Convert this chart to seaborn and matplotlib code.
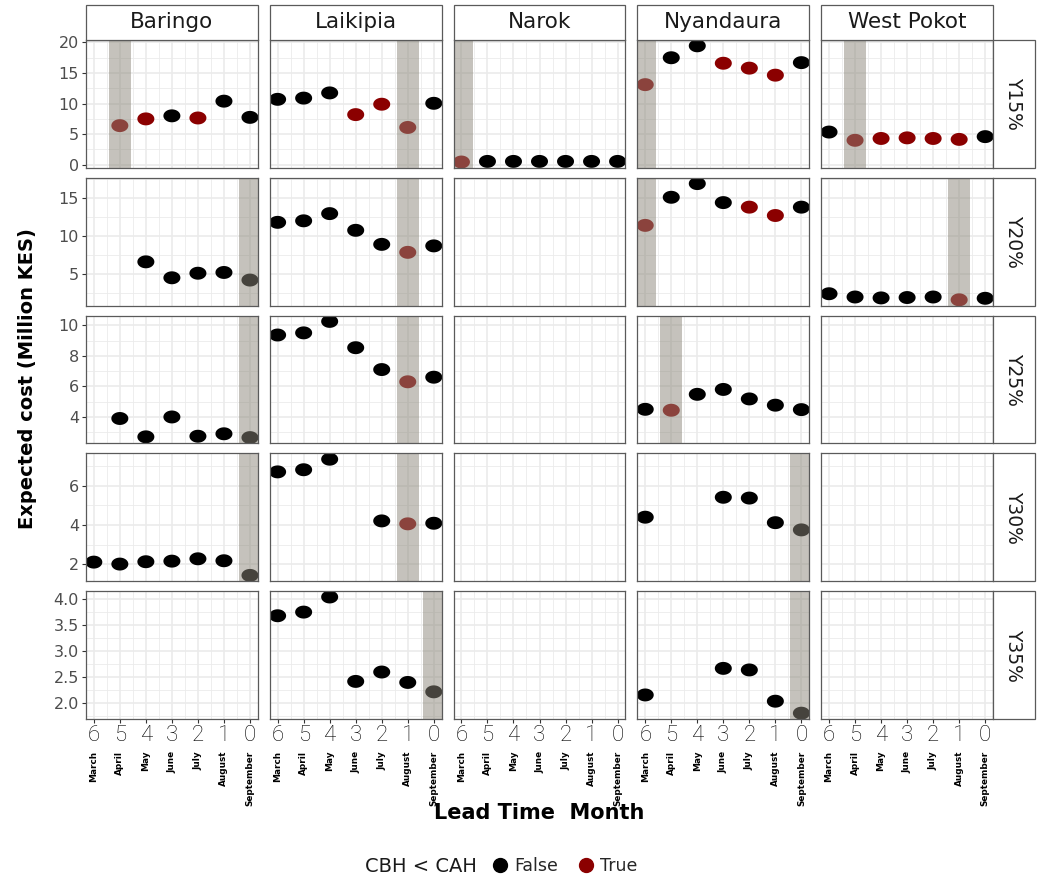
import numpy as np
import pandas as pd
import matplotlib
matplotlib.use("Agg")
import matplotlib.pyplot as plt
import seaborn as sns
from matplotlib.path import Path
from matplotlib.patches import Rectangle
from matplotlib.lines import Line2D
from matplotlib.ticker import MultipleLocator, FormatStrFormatter, FixedLocator

nan = np.nan

# ---------------- data ----------------
leads = [6, 5, 4, 3, 2, 1, 0]
months = ["March", "April", "May", "June", "July", "August", "September"]
regions = ["Baringo", "Laikipia", "Narok", "Nyandaura", "West Pokot"]
thresholds = ["Y15%", "Y20%", "Y25%", "Y30%", "Y35%"]

# Y15%
cost_y15_baringo = [nan, 6.4, 7.5, 8.0, 7.65, 10.4, 7.75]
cbh_y15_baringo = [False, True, True, False, True, False, False]
cost_y15_laikipia = [10.7, 10.9, 11.75, 8.2, 9.9, 6.1, 10.05]
cbh_y15_laikipia = [False, False, False, True, True, True, False]
cost_y15_narok = [0.45, 0.55, 0.55, 0.55, 0.55, 0.55, 0.55]
cbh_y15_narok = [True, False, False, False, False, False, False]
cost_y15_nyandaura = [13.1, 17.5, 19.45, 16.6, 15.8, 14.65, 16.7]
cbh_y15_nyandaura = [True, False, False, True, True, True, False]
cost_y15_westpokot = [5.35, 4.0, 4.3, 4.4, 4.3, 4.15, 4.6]
cbh_y15_westpokot = [False, True, True, True, True, True, False]

# Y20%
cost_y20_baringo = [nan, nan, 6.6, 4.5, 5.1, 5.2, 4.2]
cbh_y20_baringo = [False, False, False, False, False, False, False]
cost_y20_laikipia = [11.8, 12.0, 12.95, 10.75, 8.9, 7.85, 8.7]
cbh_y20_laikipia = [False, False, False, False, False, True, False]
cost_y20_nyandaura = [11.4, 15.1, 16.9, 14.4, 13.8, 12.7, 13.8]
cbh_y20_nyandaura = [True, False, False, False, True, True, False]
cost_y20_westpokot = [2.4, 1.97, 1.85, 1.9, 1.97, 1.6, 1.8]
cbh_y20_westpokot = [False, False, False, False, False, True, False]

# Y25%
cost_y25_baringo = [nan, 3.9, 2.7, 4.0, 2.74, 2.9, 2.65]
cbh_y25_baringo = [False, False, False, False, False, False, False]
cost_y25_laikipia = [9.36, 9.5, 10.25, 8.53, 7.1, 6.3, 6.6]
cbh_y25_laikipia = [False, False, False, False, False, True, False]
cost_y25_nyandaura = [4.5, 4.44, 5.48, 5.8, 5.18, 4.77, 4.48]
cbh_y25_nyandaura = [False, True, False, False, False, False, False]

# Y30%
cost_y30_baringo = [2.1, 2.0, 2.12, 2.15, 2.27, 2.17, 1.42]
cbh_y30_baringo = [False, False, False, False, False, False, False]
cost_y30_laikipia = [6.72, 6.83, 7.37, nan, 4.21, 4.06, 4.09]
cbh_y30_laikipia = [False, False, False, False, False, True, False]
cost_y30_nyandaura = [4.4, nan, nan, 5.42, 5.38, 4.12, 3.75]
cbh_y30_nyandaura = [False, False, False, False, False, False, False]

# Y35%
cost_y35_laikipia = [3.68, 3.75, 4.04, 2.42, 2.6, 2.4, 2.22]
cbh_y35_laikipia = [False, False, False, False, False, False, False]
cost_y35_nyandaura = [2.16, nan, nan, 2.67, 2.64, 2.04, 1.81]
cbh_y35_nyandaura = [False, False, False, False, False, False, False]

cells = {
    ("Y15%", "Baringo"): (cost_y15_baringo, cbh_y15_baringo),
    ("Y15%", "Laikipia"): (cost_y15_laikipia, cbh_y15_laikipia),
    ("Y15%", "Narok"): (cost_y15_narok, cbh_y15_narok),
    ("Y15%", "Nyandaura"): (cost_y15_nyandaura, cbh_y15_nyandaura),
    ("Y15%", "West Pokot"): (cost_y15_westpokot, cbh_y15_westpokot),
    ("Y20%", "Baringo"): (cost_y20_baringo, cbh_y20_baringo),
    ("Y20%", "Laikipia"): (cost_y20_laikipia, cbh_y20_laikipia),
    ("Y20%", "Nyandaura"): (cost_y20_nyandaura, cbh_y20_nyandaura),
    ("Y20%", "West Pokot"): (cost_y20_westpokot, cbh_y20_westpokot),
    ("Y25%", "Baringo"): (cost_y25_baringo, cbh_y25_baringo),
    ("Y25%", "Laikipia"): (cost_y25_laikipia, cbh_y25_laikipia),
    ("Y25%", "Nyandaura"): (cost_y25_nyandaura, cbh_y25_nyandaura),
    ("Y30%", "Baringo"): (cost_y30_baringo, cbh_y30_baringo),
    ("Y30%", "Laikipia"): (cost_y30_laikipia, cbh_y30_laikipia),
    ("Y30%", "Nyandaura"): (cost_y30_nyandaura, cbh_y30_nyandaura),
    ("Y35%", "Laikipia"): (cost_y35_laikipia, cbh_y35_laikipia),
    ("Y35%", "Nyandaura"): (cost_y35_nyandaura, cbh_y35_nyandaura),
}

rows = []
for (thr, reg), (costs, flags) in cells.items():
    for ld, c, f in zip(leads, costs, flags):
        if not np.isnan(c):
            rows.append({"threshold": thr, "region": reg, "lead": ld,
                         "cost": c, "cbh": "True" if f else "False"})
df = pd.DataFrame(rows)

# ---------------- style ----------------
sns.set_theme(style="white")
plt.rcParams["font.family"] = ["DejaVu Sans"]

palette = {"False": "black", "True": "#8B0000"}
y_steps = [5, 5, 2, 2, 0.5]
grid_col = "#EBEBEB"
border_col = "#5a5a5a"
band_col = (0.55, 0.53, 0.48)

theta = np.linspace(0, 2 * np.pi, 64)
ellipse = Path(np.column_stack([np.cos(theta), 0.76 * np.sin(theta)]), closed=True)

W, H = 1037, 875
fig = plt.figure(figsize=(W / 100, H / 100), dpi=100)
gs = fig.add_gridspec(5, 5, left=86 / W, right=993 / W, top=1 - 40 / H,
                      bottom=1 - 719 / H, wspace=0.07, hspace=0.078)

for i, thr in enumerate(thresholds):
    rowdata = df[df.threshold == thr]
    lo, hi = rowdata.cost.min(), rowdata.cost.max()
    pad = 0.05 * (hi - lo)
    for j, reg in enumerate(regions):
        ax = fig.add_subplot(gs[i, j])
        ax.set_facecolor("white")
        sub = rowdata[rowdata.region == reg]
        if len(sub):
            sns.scatterplot(data=sub, x="lead", y="cost", hue="cbh",
                            palette=palette, marker=ellipse, s=150,
                            linewidth=0, legend=False, ax=ax, zorder=2)
            best = sub.loc[sub.cost.idxmin(), "lead"]
            ax.axvspan(best - 0.43, best + 0.43, color=band_col, alpha=0.5,
                       lw=0, zorder=3)
        ax.set_xlim(6.3, -0.3)
        ax.set_ylim(lo - pad, hi + pad)
        ax.xaxis.set_major_locator(FixedLocator(leads))
        ax.xaxis.set_minor_locator(MultipleLocator(0.5))
        ax.yaxis.set_major_locator(MultipleLocator(y_steps[i]))
        ax.yaxis.set_minor_locator(MultipleLocator(y_steps[i] / 2))
        if y_steps[i] < 1:
            ax.yaxis.set_major_formatter(FormatStrFormatter("%.1f"))
        else:
            ax.yaxis.set_major_formatter(FormatStrFormatter("%d"))
        ax.grid(which="major", color=grid_col, lw=1.2, zorder=0)
        ax.grid(which="minor", color=grid_col, lw=0.6, zorder=0)
        ax.set_axisbelow(True)
        ax.set_xlabel("")
        ax.set_ylabel("")
        for sp in ax.spines.values():
            sp.set_color(border_col)
            sp.set_linewidth(0.9)
            sp.set_zorder(4)
        ax.tick_params(which="minor", length=0)
        ax.tick_params(axis="y", which="major", length=3, width=0.8,
                       color="#333333", labelsize=11.5, labelcolor="#4D4D4D",
                       pad=2, left=(j == 0), labelleft=(j == 0))
        ax.tick_params(axis="x", which="major", length=3, width=0.8,
                       color="#333333", pad=1.5, bottom=(i == 4),
                       labelbottom=(i == 4))
        if i == 4:
            ax.set_xticks(leads, labels=[str(v) for v in leads])
            for t in ax.get_xticklabels():
                t.set_fontfamily(["Liberation Sans Narrow", "Roboto", "DejaVu Sans"])
                t.set_fontweight("light")
                t.set_fontsize(16)
                t.set_color("black")
            sec = ax.secondary_xaxis("bottom")
            sec.set_xticks(leads, labels=months)
            sec.tick_params(length=0, pad=23)
            for t in sec.get_xticklabels():
                t.set_rotation(90)
                t.set_fontsize(6.4)
                t.set_fontweight("bold")
                t.set_color("black")
            sec.spines["bottom"].set_visible(False)
        # top strips
        if i == 0:
            ax.add_patch(Rectangle((0, 1), 1, 0.276, transform=ax.transAxes,
                                   facecolor="white", edgecolor=border_col,
                                   lw=0.9, clip_on=False, zorder=5))
            ax.text(0.5, 1.138, reg, transform=ax.transAxes, ha="center",
                    va="center", fontsize=15.5, color="#1A1A1A", zorder=6)
        # right strips
        if j == 4:
            ax.add_patch(Rectangle((1, 0), 0.244, 1, transform=ax.transAxes,
                                   facecolor="white", edgecolor=border_col,
                                   lw=0.9, clip_on=False, zorder=5))
            ax.text(1.122, 0.5, thr, transform=ax.transAxes, ha="center",
                    va="center", rotation=-90, fontsize=13.5,
                    color="#1A1A1A", zorder=6)

fig.text(539.5 / W, 1 - 813 / H, "Lead Time  Month", ha="center", va="center",
         fontsize=15, fontweight="bold", color="black")
fig.text(28 / W, 1 - 379 / H, "Expected cost (Million KES)", ha="center",
         va="center", rotation=90, fontsize=14, fontweight="bold",
         color="black")

fig.text(477 / W, 1 - 866 / H, "CBH < CAH", ha="right", va="center",
         fontsize=14, color="#1A1A1A")
handles = [Line2D([], [], ls="", marker="o", color=palette[k], markersize=10)
           for k in ["False", "True"]]
fig.legend(handles, ["False", "True"], loc="center left",
           bbox_to_anchor=(490 / W, 1 - 866 / H), ncol=2, frameon=False,
           fontsize=12.5, handletextpad=0.2, columnspacing=1.0,
           handlelength=1.2, borderaxespad=0, borderpad=0)

fig.savefig("out.png", dpi=100)
